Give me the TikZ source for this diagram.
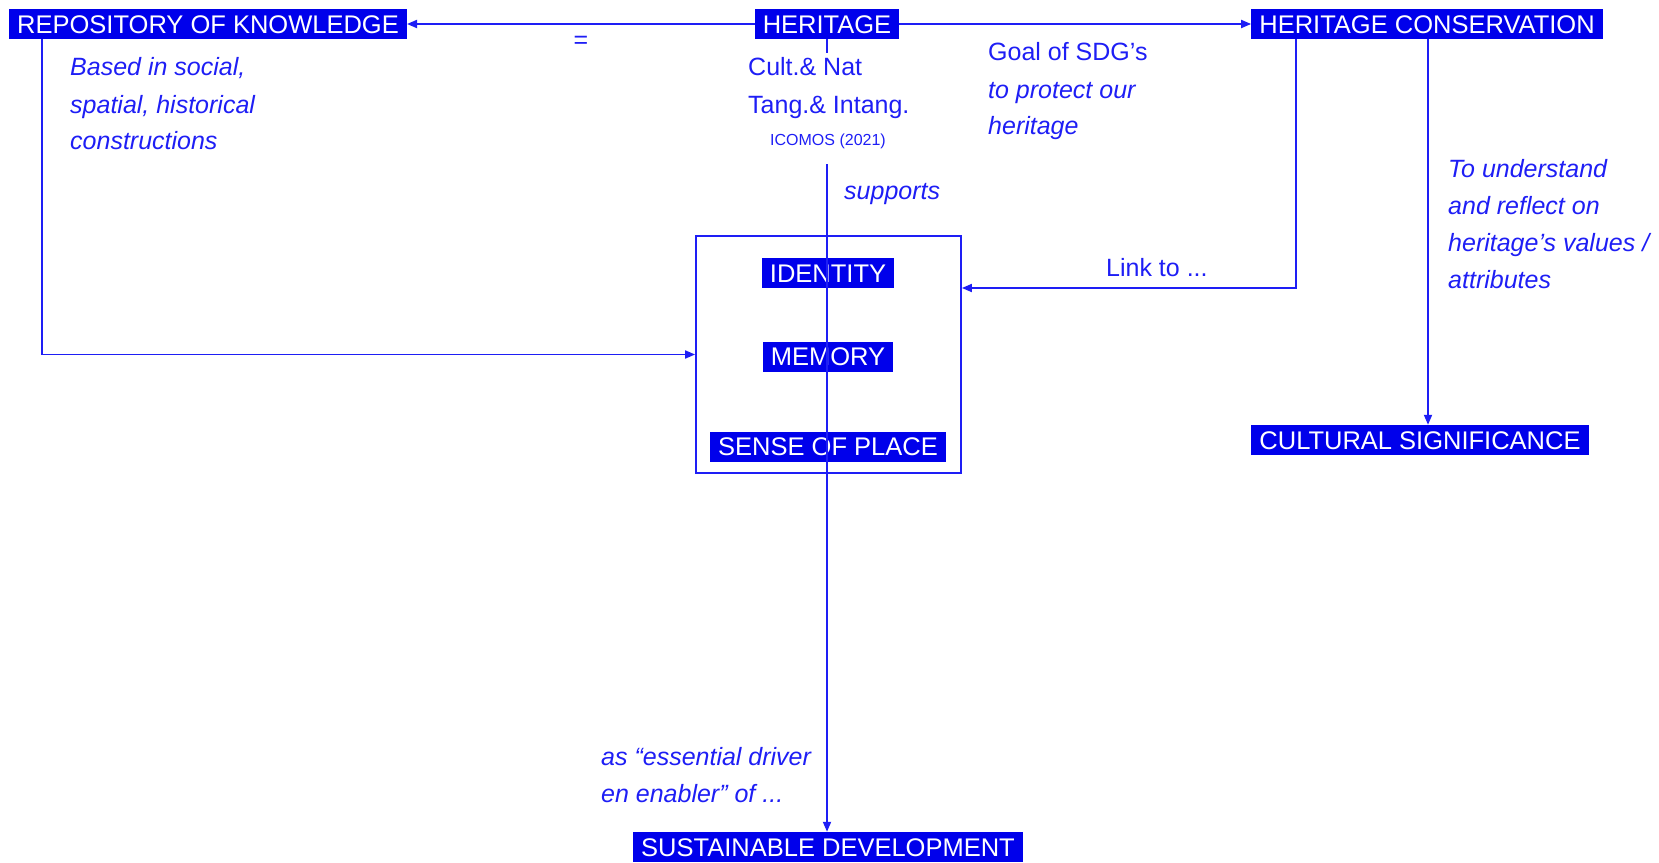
\documentclass[tikz,border=0pt]{standalone}
\usepackage{fontspec}
\setmainfont{Liberation Sans}
\usetikzlibrary{arrows.meta}
\definecolor{hblue}{RGB}{30,30,245}
\definecolor{hfill}{RGB}{0,0,235}
\begin{document}
\begin{tikzpicture}[x=1pt,y=-1pt,
  lbl/.style={fill=hfill, text=white, font=\fontsize{25.5}{30}\selectfont, inner xsep=8pt, inner ysep=0pt, text height=18.3pt, text depth=0pt, minimum height=30pt},
  note/.style={text=hblue, font=\fontsize{25}{30}\selectfont\itshape, inner sep=0pt, anchor=base west},
  plain/.style={text=hblue, font=\fontsize{25}{30}\selectfont, inner sep=0pt, anchor=base west},
  conn/.style={draw=hblue, line width=1.8pt},
  arr/.style={conn, -{Triangle[length=10pt,width=8pt]}}]
\useasboundingbox (0,0) rectangle (1659,862);
% boxes
\node[lbl] (repo) at (208,24) {REPOSITORY OF KNOWLEDGE};
\node[lbl] (her) at (827,24) {HERITAGE};
\node[lbl] (hc) at (1427,24) {HERITAGE CONSERVATION};
\node[lbl] (cs) at (1420,440) {CULTURAL SIGNIFICANCE};
\node[lbl] (sd) at (828,847) {SUSTAINABLE DEVELOPMENT};
\node[draw=hblue, line width=1.8pt, minimum width=265pt, minimum height=237pt, inner sep=0pt] (big) at (828.5,354.5) {};
\node[lbl] (id) at (828,273) {IDENTITY};
\node[lbl] (mem) at (828,356.5) {MEMORY};
\node[lbl] (sop) at (828,446.5) {SENSE OF PLACE};
% coordinates
\coordinate (stub) at (827,53);
\coordinate (sup) at (827,164);
\coordinate (rk) at (42,0);
\coordinate (hcl) at (1296,288);
\coordinate (csx) at (1428,0);
% connectors
\draw[arr] (her.west) -- (repo.east);
\draw[arr] (her.east) -- (hc.west);
\draw[conn] (her.south) -- (stub);
\draw[arr] (sup) -- (sup |- sd.north);
\draw[arr] (repo.south -| rk) |- (big.west);
\draw[arr] (hc.south -| hcl) -- (hcl) -- (big.east |- hcl);
\draw[arr] (hc.south -| csx) -- (cs.north -| csx);
% texts
\node[plain, anchor=center] (eq) at (581,42) {=};
\node[note] (b1) at (70,75) {Based in social,};
\node[note] (b2) at (70,113) {spatial, historical};
\node[note] (b3) at (70,149) {constructions};
\node[plain] (c1) at (748,75) {Cult.\& Nat};
\node[plain] (c2) at (748,113) {Tang.\& Intang.};
\node[plain, anchor=base, font=\fontsize{16}{19}\selectfont] (ic) at (828,145) {ICOMOS (2021)};
\node[note] (sp) at (844,199) {supports};
\node[plain] (g1) at (988,60) {Goal of SDG’s};
\node[note] (g2) at (988,98) {to protect our};
\node[note] (g3) at (988,134) {heritage};
\node[plain] (lk) at (1106,276) {Link to ...};
\node[note] (u1) at (1448,177) {To understand};
\node[note] (u2) at (1448,214) {and reflect on};
\node[note] (u3) at (1448,251) {heritage’s values /};
\node[note] (u4) at (1448,288) {attributes};
\node[note] (e1) at (601,765) {as “essential driver};
\node[note] (e2) at (601,802) {en enabler” of ...};
\end{tikzpicture}
\end{document}
